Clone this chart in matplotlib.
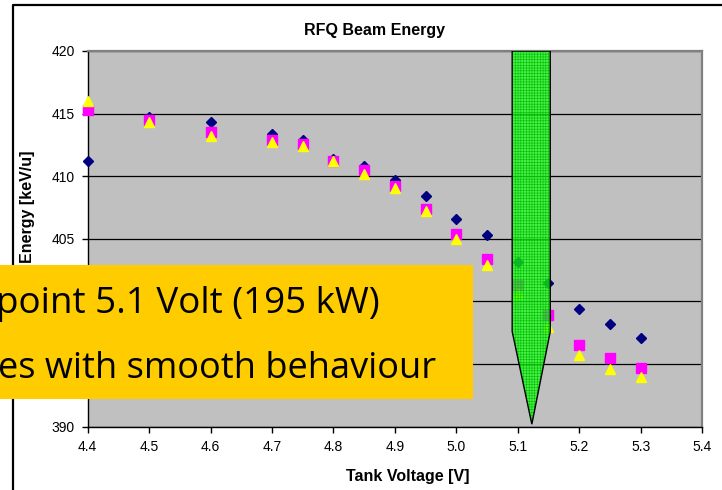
import matplotlib
matplotlib.use("Agg")
import matplotlib.pyplot as plt
from matplotlib.patches import Polygon, Rectangle
from matplotlib.lines import Line2D

# ---------------- data ----------------
voltage = [4.4, 4.5, 4.6, 4.7, 4.75, 4.8, 4.85, 4.9, 4.95, 5.0, 5.05, 5.1, 5.15, 5.2, 5.25, 5.3]
energy_diamond = [411.2, 414.75, 414.35, 413.4, 412.9, 411.4, 410.85, 409.7, 408.4, 406.6,
                  405.3, 403.15, 401.5, 399.4, 398.2, 397.1]
energy_square = [415.3, 414.5, 413.55, 412.9, 412.6, 411.25, 410.5, 409.25, 407.4, 405.4,
                 403.4, 401.3, 398.9, 396.5, 395.45, 394.7]
energy_triangle = [416.0, 414.3, 413.25, 412.7, 412.4, 411.2, 410.2, 409.05, 407.2, 405.0,
                   402.9, 400.6, 398.0, 395.7, 394.6, 394.0]

x_ticks = [4.4, 4.5, 4.6, 4.7, 4.8, 4.9, 5.0, 5.1, 5.2, 5.3, 5.4]
y_ticks = [390, 395, 400, 405, 410, 415, 420]

# green operating-point marker (band + arrow tip) in data units
band_left, band_right = 5.091, 5.153
band_top, band_bottom = 420.0, 397.6
tip_x, tip_y = 5.123, 390.2

title = "RFQ Beam Energy"
xlabel = "Tank Voltage [V]"
ylabel = "Energy [keV/u]"
note_lines = ["point 5.1 Volt (195 kW)", "es with smooth behaviour"]

# ---------------- figure ----------------
W, H = 722, 490
fig = plt.figure(figsize=(W / 100, H / 100), dpi=100)
fig.patch.set_facecolor("white")

def fx(px):
    return px / W

def fy(py):
    return 1 - py / H

# outer chart frame (left and top edges visible)
fig.add_artist(Line2D([fx(13), fx(13), fx(722)], [fy(490), fy(4.7), fy(4.7)],
                      color="black", lw=1.6, transform=fig.transFigure))

L, R, T, B = 87.7, 702.0, 51.0, 426.7
ax = fig.add_axes([fx(L), fy(B), fx(R - L), (B - T) / H])
ax.set_facecolor("#C0C0C0")
ax.set_xlim(4.4, 5.4)
ax.set_ylim(390, 420)

font = "Liberation Sans"
ax.set_xticks(x_ticks)
ax.set_xticklabels([f"{v:.1f}" for v in x_ticks], fontsize=10, family=font)
ax.set_yticks(y_ticks)
ax.set_yticklabels([str(v) for v in y_ticks], fontsize=10, family=font)
ax.tick_params(direction="out", length=4.5, width=1, pad=5, colors="black")
ax.yaxis.grid(True, color="black", lw=0.9)
ax.set_axisbelow(True)

for s in ("top", "right"):
    ax.spines[s].set_color("#808080")
    ax.spines[s].set_linewidth(1.6)
for s in ("left", "bottom"):
    ax.spines[s].set_color("black")
    ax.spines[s].set_linewidth(1.0)

ax.plot(voltage, energy_diamond, ls="none", marker="D", ms=5.3, color="#000080",
        mec="#000080", zorder=3, clip_on=False)
ax.plot(voltage, energy_square, ls="none", marker="s", ms=6.7, color="#FF00FF",
        mec="#FF00FF", zorder=4, clip_on=False)
ax.plot(voltage, energy_triangle, ls="none", marker="^", ms=7.4, color="#FFFF00",
        mec="#FFFF00", zorder=5, clip_on=False)

shape = [(band_left, band_top), (band_right, band_top), (band_right, band_bottom),
         (tip_x, tip_y), (band_left, band_bottom)]
plt.rcParams["hatch.linewidth"] = 0.4
ax.add_patch(Polygon(shape, closed=True, facecolor=(0.1, 1.0, 0.1, 0.72),
                     edgecolor=(0.0, 0.75, 0.0), hatch="++++++", lw=0, zorder=6))
ax.add_patch(Polygon(shape, closed=True, fill=False, edgecolor="black", lw=1.0, zorder=7))

# titles
fig.text(fx(375), fy(30), title, ha="center", va="center", fontsize=11.5,
         fontweight="bold", family=font)
fig.text(fx(408), fy(476), xlabel, ha="center", va="center", fontsize=11.5,
         fontweight="bold", family=font)
fig.text(fx(28), fy(207), ylabel, ha="center", va="center", rotation=90,
         fontsize=11.5, fontweight="bold", family=font)

# overlay note box
fig.add_artist(Rectangle((fx(0), fy(399)), fx(473), (399 - 265) / H,
                         facecolor="#FFCC00", edgecolor="none",
                         transform=fig.transFigure, zorder=20))
fig.text(fx(-4), fy(313), note_lines[0], ha="left", va="baseline", fontsize=26.5,
         family="Open Sans", color="black", zorder=21)
fig.text(fx(-2), fy(378), note_lines[1], ha="left", va="baseline", fontsize=26,
         family="Open Sans", color="black", zorder=21)

fig.savefig("out.png", dpi=100)
